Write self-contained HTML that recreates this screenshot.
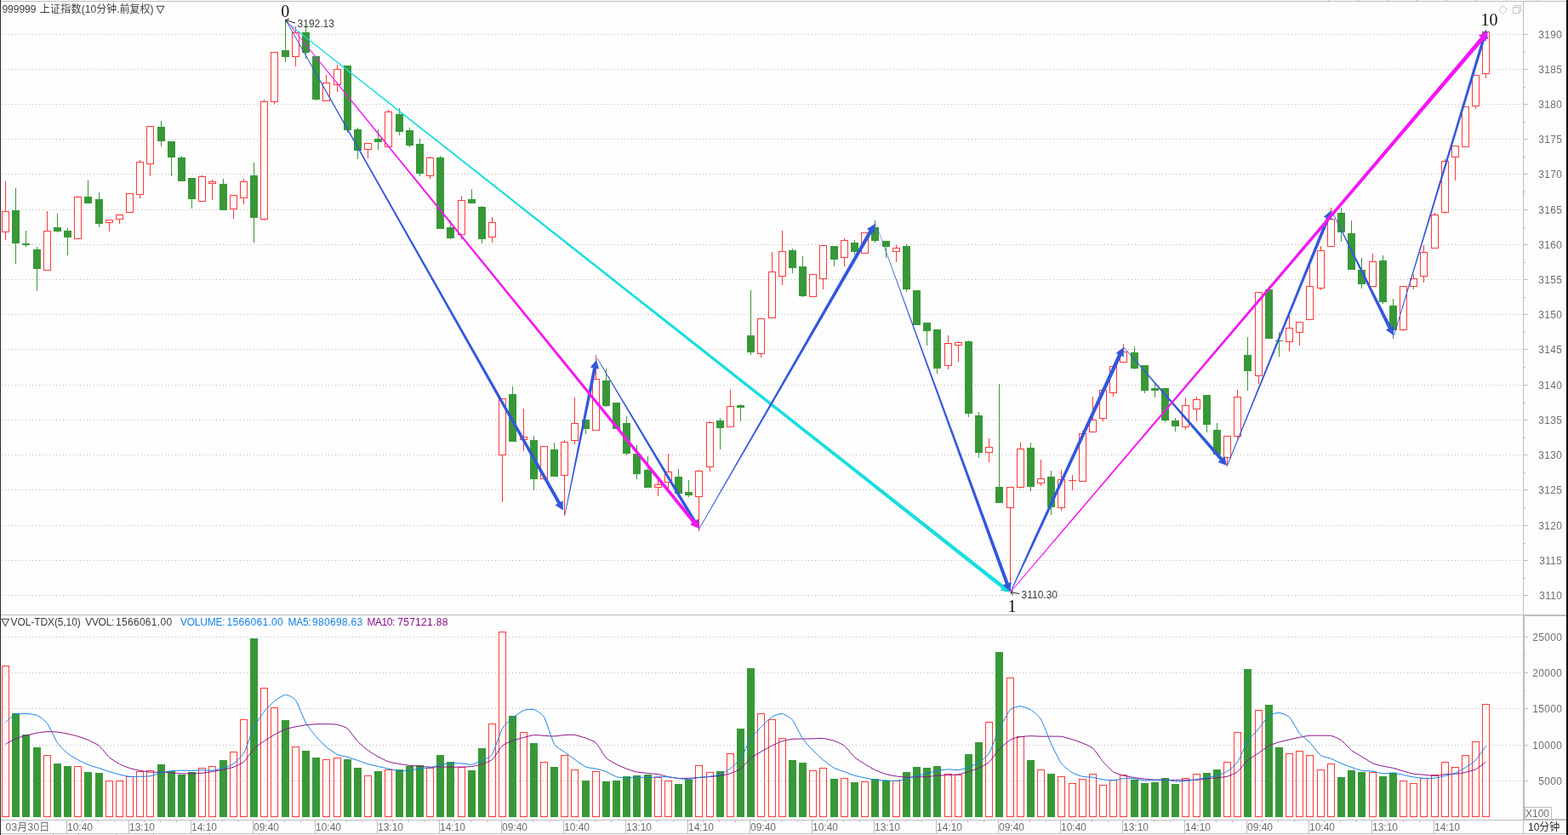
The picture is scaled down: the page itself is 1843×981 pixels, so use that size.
<!DOCTYPE html>
<html lang="zh"><head><meta charset="utf-8"><title>999999 上证指数</title>
<style>html,body{margin:0;padding:0;background:#fdfdfd;overflow:hidden}svg{display:block}text{font-family:"Liberation Sans","Noto Sans CJK SC",sans-serif;font-size:12px}.s{font-family:"Liberation Serif","Noto Serif CJK SC",serif;font-size:20px;fill:#111}.c{shape-rendering:crispEdges}</style></head><body>
<svg width="1843" height="981" viewBox="0 0 1843 981">
<rect width="1843" height="981" fill="#fdfdfd"/>
<g class="c" stroke="#b9b9b9" stroke-width="1" stroke-dasharray="1 3" fill="none">
<path d="M2 40.5H1789"/>
<path d="M2 81.5H1789"/>
<path d="M2 122.5H1789"/>
<path d="M2 163.5H1789"/>
<path d="M2 204.5H1789"/>
<path d="M2 246.5H1789"/>
<path d="M2 287.5H1789"/>
<path d="M2 328.5H1789"/>
<path d="M2 369.5H1789"/>
<path d="M2 410.5H1789"/>
<path d="M2 452.5H1789"/>
<path d="M2 493.5H1789"/>
<path d="M2 534.5H1789"/>
<path d="M2 575.5H1789"/>
<path d="M2 617.5H1789"/>
<path d="M2 658.5H1789"/>
<path d="M2 699.5H1789"/>
<path d="M2 748.5H1789"/>
<path d="M2 790.5H1789"/>
<path d="M2 832.5H1789"/>
<path d="M2 875.5H1789"/>
<path d="M2 917.5H1789"/>
</g>
<g class="c" fill="#bdbdbd">
<rect x="0" y="1" width="1841" height="1"/>
<rect x="1" y="722" width="1790" height="1"/>
<rect x="1790" y="722" width="51" height="2"/>
<rect x="1790" y="2" width="1" height="720"/>
<rect x="1790" y="722" width="2" height="241"/>
<rect x="1790" y="963" width="1" height="17"/>
<rect x="1" y="963" width="1790" height="1"/>
<rect x="1790" y="962" width="51" height="2"/>
<rect x="1" y="979" width="1840" height="1"/>
<rect x="1791" y="40" width="5" height="1"/>
<rect x="1791" y="61" width="2" height="1"/>
<rect x="1791" y="81" width="5" height="1"/>
<rect x="1791" y="102" width="2" height="1"/>
<rect x="1791" y="122" width="5" height="1"/>
<rect x="1791" y="143" width="2" height="1"/>
<rect x="1791" y="163" width="5" height="1"/>
<rect x="1791" y="184" width="2" height="1"/>
<rect x="1791" y="204" width="5" height="1"/>
<rect x="1791" y="225" width="2" height="1"/>
<rect x="1791" y="246" width="5" height="1"/>
<rect x="1791" y="267" width="2" height="1"/>
<rect x="1791" y="287" width="5" height="1"/>
<rect x="1791" y="308" width="2" height="1"/>
<rect x="1791" y="328" width="5" height="1"/>
<rect x="1791" y="349" width="2" height="1"/>
<rect x="1791" y="369" width="5" height="1"/>
<rect x="1791" y="390" width="2" height="1"/>
<rect x="1791" y="410" width="5" height="1"/>
<rect x="1791" y="431" width="2" height="1"/>
<rect x="1791" y="452" width="5" height="1"/>
<rect x="1791" y="473" width="2" height="1"/>
<rect x="1791" y="493" width="5" height="1"/>
<rect x="1791" y="514" width="2" height="1"/>
<rect x="1791" y="534" width="5" height="1"/>
<rect x="1791" y="555" width="2" height="1"/>
<rect x="1791" y="575" width="5" height="1"/>
<rect x="1791" y="596" width="2" height="1"/>
<rect x="1791" y="617" width="5" height="1"/>
<rect x="1791" y="638" width="2" height="1"/>
<rect x="1791" y="658" width="5" height="1"/>
<rect x="1791" y="679" width="2" height="1"/>
<rect x="1791" y="699" width="5" height="1"/>
<rect x="1792" y="748" width="4" height="1"/>
<rect x="1792" y="769" width="1" height="1"/>
<rect x="1792" y="790" width="4" height="1"/>
<rect x="1792" y="811" width="1" height="1"/>
<rect x="1792" y="832" width="4" height="1"/>
<rect x="1792" y="853" width="1" height="1"/>
<rect x="1792" y="875" width="4" height="1"/>
<rect x="1792" y="896" width="1" height="1"/>
<rect x="1792" y="917" width="4" height="1"/>
<rect x="78" y="963" width="1" height="17"/>
<rect x="96" y="964" width="1" height="2"/>
<rect x="115" y="964" width="1" height="2"/>
<rect x="134" y="964" width="1" height="2"/>
<rect x="151" y="963" width="1" height="17"/>
<rect x="169" y="964" width="1" height="2"/>
<rect x="188" y="964" width="1" height="2"/>
<rect x="207" y="964" width="1" height="2"/>
<rect x="224" y="963" width="1" height="17"/>
<rect x="242" y="964" width="1" height="2"/>
<rect x="261" y="964" width="1" height="2"/>
<rect x="280" y="964" width="1" height="2"/>
<rect x="297" y="963" width="1" height="17"/>
<rect x="315" y="964" width="1" height="2"/>
<rect x="334" y="964" width="1" height="2"/>
<rect x="353" y="964" width="1" height="2"/>
<rect x="370" y="963" width="1" height="17"/>
<rect x="388" y="964" width="1" height="2"/>
<rect x="407" y="964" width="1" height="2"/>
<rect x="426" y="964" width="1" height="2"/>
<rect x="443" y="963" width="1" height="17"/>
<rect x="461" y="964" width="1" height="2"/>
<rect x="480" y="964" width="1" height="2"/>
<rect x="499" y="964" width="1" height="2"/>
<rect x="516" y="963" width="1" height="17"/>
<rect x="534" y="964" width="1" height="2"/>
<rect x="553" y="964" width="1" height="2"/>
<rect x="572" y="964" width="1" height="2"/>
<rect x="589" y="963" width="1" height="17"/>
<rect x="607" y="964" width="1" height="2"/>
<rect x="626" y="964" width="1" height="2"/>
<rect x="645" y="964" width="1" height="2"/>
<rect x="662" y="963" width="1" height="17"/>
<rect x="680" y="964" width="1" height="2"/>
<rect x="699" y="964" width="1" height="2"/>
<rect x="718" y="964" width="1" height="2"/>
<rect x="735" y="963" width="1" height="17"/>
<rect x="753" y="964" width="1" height="2"/>
<rect x="772" y="964" width="1" height="2"/>
<rect x="791" y="964" width="1" height="2"/>
<rect x="808" y="963" width="1" height="17"/>
<rect x="826" y="964" width="1" height="2"/>
<rect x="845" y="964" width="1" height="2"/>
<rect x="864" y="964" width="1" height="2"/>
<rect x="881" y="963" width="1" height="17"/>
<rect x="899" y="964" width="1" height="2"/>
<rect x="918" y="964" width="1" height="2"/>
<rect x="937" y="964" width="1" height="2"/>
<rect x="954" y="963" width="1" height="17"/>
<rect x="972" y="964" width="1" height="2"/>
<rect x="991" y="964" width="1" height="2"/>
<rect x="1010" y="964" width="1" height="2"/>
<rect x="1027" y="963" width="1" height="17"/>
<rect x="1045" y="964" width="1" height="2"/>
<rect x="1064" y="964" width="1" height="2"/>
<rect x="1083" y="964" width="1" height="2"/>
<rect x="1100" y="963" width="1" height="17"/>
<rect x="1118" y="964" width="1" height="2"/>
<rect x="1137" y="964" width="1" height="2"/>
<rect x="1156" y="964" width="1" height="2"/>
<rect x="1173" y="963" width="1" height="17"/>
<rect x="1191" y="964" width="1" height="2"/>
<rect x="1210" y="964" width="1" height="2"/>
<rect x="1229" y="964" width="1" height="2"/>
<rect x="1246" y="963" width="1" height="17"/>
<rect x="1264" y="964" width="1" height="2"/>
<rect x="1283" y="964" width="1" height="2"/>
<rect x="1302" y="964" width="1" height="2"/>
<rect x="1319" y="963" width="1" height="17"/>
<rect x="1337" y="964" width="1" height="2"/>
<rect x="1356" y="964" width="1" height="2"/>
<rect x="1375" y="964" width="1" height="2"/>
<rect x="1392" y="963" width="1" height="17"/>
<rect x="1410" y="964" width="1" height="2"/>
<rect x="1429" y="964" width="1" height="2"/>
<rect x="1448" y="964" width="1" height="2"/>
<rect x="1465" y="963" width="1" height="17"/>
<rect x="1483" y="964" width="1" height="2"/>
<rect x="1502" y="964" width="1" height="2"/>
<rect x="1521" y="964" width="1" height="2"/>
<rect x="1538" y="963" width="1" height="17"/>
<rect x="1556" y="964" width="1" height="2"/>
<rect x="1575" y="964" width="1" height="2"/>
<rect x="1594" y="964" width="1" height="2"/>
<rect x="1612" y="963" width="1" height="17"/>
<rect x="1630" y="964" width="1" height="2"/>
<rect x="1649" y="964" width="1" height="2"/>
<rect x="1668" y="964" width="1" height="2"/>
<rect x="1685" y="963" width="1" height="17"/>
<rect x="1561" y="0" width="1" height="1"/>
<rect x="1596" y="0" width="1" height="1"/>
<rect x="1631" y="0" width="1" height="1"/>
<rect x="1665" y="0" width="1" height="1"/>
<rect x="1700" y="0" width="1" height="1"/>
<rect x="1735" y="0" width="1" height="1"/>
<rect x="1770" y="0" width="1" height="1"/>
<rect x="1805" y="0" width="1" height="1"/>
<rect x="31" y="980" width="1" height="1"/>
<rect x="62" y="980" width="1" height="1"/>
<rect x="92" y="980" width="1" height="1"/>
<rect x="136" y="980" width="1" height="1"/>
<rect x="180" y="980" width="1" height="1"/>
<rect x="246" y="980" width="1" height="1"/>
<rect x="304" y="980" width="1" height="1"/>
</g>
<rect class="c" x="1792.5" y="948.5" width="31" height="14" fill="none" stroke="#bdbdbd"/>
<rect class="c" x="0" y="0" width="1" height="981" fill="#2c2c2c"/>
<rect class="c" x="1841" y="0" width="2" height="981" fill="#0c0c0c"/>
<g class="c">
<rect x="2.5" y="782.5" width="8" height="177" fill="none" stroke="#ff3a3a"/>
<rect x="14" y="838" width="9" height="122" fill="#389838"/>
<rect x="26" y="863" width="9" height="97" fill="#389838"/>
<rect x="39" y="878" width="9" height="82" fill="#389838"/>
<rect x="51.5" y="887.5" width="8" height="72" fill="none" stroke="#ff3a3a"/>
<rect x="63" y="897" width="9" height="63" fill="#389838"/>
<rect x="75" y="900" width="9" height="60" fill="#389838"/>
<rect x="87.5" y="900.5" width="8" height="59" fill="none" stroke="#ff3a3a"/>
<rect x="99" y="907" width="9" height="53" fill="#389838"/>
<rect x="112" y="908" width="9" height="52" fill="#389838"/>
<rect x="124.5" y="917.5" width="8" height="42" fill="none" stroke="#ff3a3a"/>
<rect x="136.5" y="917.5" width="8" height="42" fill="none" stroke="#ff3a3a"/>
<rect x="148.5" y="912.5" width="8" height="47" fill="none" stroke="#ff3a3a"/>
<rect x="160.5" y="906.5" width="8" height="53" fill="none" stroke="#ff3a3a"/>
<rect x="172.5" y="905.5" width="8" height="54" fill="none" stroke="#ff3a3a"/>
<rect x="185" y="898" width="9" height="62" fill="#389838"/>
<rect x="197" y="906" width="9" height="54" fill="#389838"/>
<rect x="209" y="910" width="9" height="50" fill="#389838"/>
<rect x="221" y="907" width="9" height="53" fill="#389838"/>
<rect x="233.5" y="902.5" width="8" height="57" fill="none" stroke="#ff3a3a"/>
<rect x="245.5" y="900.5" width="8" height="59" fill="none" stroke="#ff3a3a"/>
<rect x="258" y="893" width="9" height="67" fill="#389838"/>
<rect x="270.5" y="883.5" width="8" height="76" fill="none" stroke="#ff3a3a"/>
<rect x="282.5" y="845.5" width="8" height="114" fill="none" stroke="#ff3a3a"/>
<rect x="294" y="750" width="9" height="210" fill="#389838"/>
<rect x="306.5" y="808.5" width="8" height="151" fill="none" stroke="#ff3a3a"/>
<rect x="318.5" y="831.5" width="8" height="128" fill="none" stroke="#ff3a3a"/>
<rect x="331" y="846" width="9" height="114" fill="#389838"/>
<rect x="343.5" y="877.5" width="8" height="82" fill="none" stroke="#ff3a3a"/>
<rect x="355" y="882" width="9" height="78" fill="#389838"/>
<rect x="367" y="890" width="9" height="70" fill="#389838"/>
<rect x="379.5" y="892.5" width="8" height="67" fill="none" stroke="#ff3a3a"/>
<rect x="392.5" y="890.5" width="8" height="69" fill="none" stroke="#ff3a3a"/>
<rect x="404" y="892" width="9" height="68" fill="#389838"/>
<rect x="416" y="902" width="9" height="58" fill="#389838"/>
<rect x="428.5" y="911.5" width="8" height="48" fill="none" stroke="#ff3a3a"/>
<rect x="440" y="906" width="9" height="54" fill="#389838"/>
<rect x="452.5" y="904.5" width="8" height="55" fill="none" stroke="#ff3a3a"/>
<rect x="465" y="904" width="9" height="56" fill="#389838"/>
<rect x="477" y="900" width="9" height="60" fill="#389838"/>
<rect x="489" y="899" width="9" height="61" fill="#389838"/>
<rect x="501.5" y="902.5" width="8" height="57" fill="none" stroke="#ff3a3a"/>
<rect x="513" y="887" width="9" height="73" fill="#389838"/>
<rect x="525" y="895" width="9" height="65" fill="#389838"/>
<rect x="538.5" y="901.5" width="8" height="58" fill="none" stroke="#ff3a3a"/>
<rect x="550" y="905" width="9" height="55" fill="#389838"/>
<rect x="562" y="879" width="9" height="81" fill="#389838"/>
<rect x="574.5" y="850.5" width="8" height="109" fill="none" stroke="#ff3a3a"/>
<rect x="586.5" y="742.5" width="8" height="217" fill="none" stroke="#ff3a3a"/>
<rect x="598" y="841" width="9" height="119" fill="#389838"/>
<rect x="611.5" y="860.5" width="8" height="99" fill="none" stroke="#ff3a3a"/>
<rect x="623" y="873" width="9" height="87" fill="#389838"/>
<rect x="635.5" y="895.5" width="8" height="64" fill="none" stroke="#ff3a3a"/>
<rect x="647" y="901" width="9" height="59" fill="#389838"/>
<rect x="659.5" y="887.5" width="8" height="72" fill="none" stroke="#ff3a3a"/>
<rect x="671.5" y="904.5" width="8" height="55" fill="none" stroke="#ff3a3a"/>
<rect x="684" y="917" width="9" height="43" fill="#389838"/>
<rect x="696.5" y="906.5" width="8" height="53" fill="none" stroke="#ff3a3a"/>
<rect x="708" y="918" width="9" height="42" fill="#389838"/>
<rect x="720" y="917" width="9" height="43" fill="#389838"/>
<rect x="732" y="912" width="9" height="48" fill="#389838"/>
<rect x="744" y="911" width="9" height="49" fill="#389838"/>
<rect x="757" y="910" width="9" height="50" fill="#389838"/>
<rect x="769.5" y="913.5" width="8" height="46" fill="none" stroke="#ff3a3a"/>
<rect x="781.5" y="917.5" width="8" height="42" fill="none" stroke="#ff3a3a"/>
<rect x="793" y="921" width="9" height="39" fill="#389838"/>
<rect x="805" y="916" width="9" height="44" fill="#389838"/>
<rect x="817.5" y="899.5" width="8" height="60" fill="none" stroke="#ff3a3a"/>
<rect x="830.5" y="907.5" width="8" height="52" fill="none" stroke="#ff3a3a"/>
<rect x="842" y="906" width="9" height="54" fill="#389838"/>
<rect x="854.5" y="885.5" width="8" height="74" fill="none" stroke="#ff3a3a"/>
<rect x="866" y="856" width="9" height="104" fill="#389838"/>
<rect x="878" y="785" width="9" height="175" fill="#389838"/>
<rect x="890.5" y="838.5" width="8" height="121" fill="none" stroke="#ff3a3a"/>
<rect x="903.5" y="845.5" width="8" height="114" fill="none" stroke="#ff3a3a"/>
<rect x="915.5" y="867.5" width="8" height="92" fill="none" stroke="#ff3a3a"/>
<rect x="927" y="893" width="9" height="67" fill="#389838"/>
<rect x="939" y="896" width="9" height="64" fill="#389838"/>
<rect x="951.5" y="905.5" width="8" height="54" fill="none" stroke="#ff3a3a"/>
<rect x="963.5" y="902.5" width="8" height="57" fill="none" stroke="#ff3a3a"/>
<rect x="976" y="915" width="9" height="45" fill="#389838"/>
<rect x="988.5" y="914.5" width="8" height="45" fill="none" stroke="#ff3a3a"/>
<rect x="1000" y="919" width="9" height="41" fill="#389838"/>
<rect x="1012.5" y="918.5" width="8" height="41" fill="none" stroke="#ff3a3a"/>
<rect x="1024" y="915" width="9" height="45" fill="#389838"/>
<rect x="1037" y="917" width="9" height="43" fill="#389838"/>
<rect x="1049.5" y="917.5" width="8" height="42" fill="none" stroke="#ff3a3a"/>
<rect x="1061" y="907" width="9" height="53" fill="#389838"/>
<rect x="1073" y="901" width="9" height="59" fill="#389838"/>
<rect x="1085" y="902" width="9" height="58" fill="#389838"/>
<rect x="1097" y="900" width="9" height="60" fill="#389838"/>
<rect x="1110.5" y="909.5" width="8" height="50" fill="none" stroke="#ff3a3a"/>
<rect x="1122.5" y="910.5" width="8" height="49" fill="none" stroke="#ff3a3a"/>
<rect x="1134" y="886" width="9" height="74" fill="#389838"/>
<rect x="1146" y="872" width="9" height="88" fill="#389838"/>
<rect x="1158.5" y="848.5" width="8" height="111" fill="none" stroke="#ff3a3a"/>
<rect x="1170" y="766" width="9" height="194" fill="#389838"/>
<rect x="1183.5" y="796.5" width="8" height="163" fill="none" stroke="#ff3a3a"/>
<rect x="1195.5" y="865.5" width="8" height="94" fill="none" stroke="#ff3a3a"/>
<rect x="1207" y="893" width="9" height="67" fill="#389838"/>
<rect x="1219.5" y="904.5" width="8" height="55" fill="none" stroke="#ff3a3a"/>
<rect x="1231" y="909" width="9" height="51" fill="#389838"/>
<rect x="1243.5" y="912.5" width="8" height="47" fill="none" stroke="#ff3a3a"/>
<rect x="1256.5" y="920.5" width="8" height="39" fill="none" stroke="#ff3a3a"/>
<rect x="1268.5" y="915.5" width="8" height="44" fill="none" stroke="#ff3a3a"/>
<rect x="1280.5" y="909.5" width="8" height="50" fill="none" stroke="#ff3a3a"/>
<rect x="1292.5" y="922.5" width="8" height="37" fill="none" stroke="#ff3a3a"/>
<rect x="1304.5" y="916.5" width="8" height="43" fill="none" stroke="#ff3a3a"/>
<rect x="1316.5" y="910.5" width="8" height="49" fill="none" stroke="#ff3a3a"/>
<rect x="1329" y="916" width="9" height="44" fill="#389838"/>
<rect x="1341" y="920" width="9" height="40" fill="#389838"/>
<rect x="1353" y="919" width="9" height="41" fill="#389838"/>
<rect x="1365" y="914" width="9" height="46" fill="#389838"/>
<rect x="1377" y="921" width="9" height="39" fill="#389838"/>
<rect x="1389.5" y="914.5" width="8" height="45" fill="none" stroke="#ff3a3a"/>
<rect x="1402.5" y="909.5" width="8" height="50" fill="none" stroke="#ff3a3a"/>
<rect x="1414" y="908" width="9" height="52" fill="#389838"/>
<rect x="1426" y="904" width="9" height="56" fill="#389838"/>
<rect x="1438.5" y="895.5" width="8" height="64" fill="none" stroke="#ff3a3a"/>
<rect x="1450.5" y="860.5" width="8" height="99" fill="none" stroke="#ff3a3a"/>
<rect x="1462" y="786" width="9" height="174" fill="#389838"/>
<rect x="1475.5" y="834.5" width="8" height="125" fill="none" stroke="#ff3a3a"/>
<rect x="1487" y="828" width="9" height="132" fill="#389838"/>
<rect x="1499" y="878" width="9" height="82" fill="#389838"/>
<rect x="1511.5" y="885.5" width="8" height="74" fill="none" stroke="#ff3a3a"/>
<rect x="1523.5" y="882.5" width="8" height="77" fill="none" stroke="#ff3a3a"/>
<rect x="1535.5" y="887.5" width="8" height="72" fill="none" stroke="#ff3a3a"/>
<rect x="1548.5" y="904.5" width="8" height="55" fill="none" stroke="#ff3a3a"/>
<rect x="1560.5" y="897.5" width="8" height="62" fill="none" stroke="#ff3a3a"/>
<rect x="1572" y="913" width="9" height="47" fill="#389838"/>
<rect x="1584" y="905" width="9" height="55" fill="#389838"/>
<rect x="1596" y="907" width="9" height="53" fill="#389838"/>
<rect x="1609.5" y="907.5" width="8" height="52" fill="none" stroke="#ff3a3a"/>
<rect x="1621" y="912" width="9" height="48" fill="#389838"/>
<rect x="1633" y="908" width="9" height="52" fill="#389838"/>
<rect x="1645.5" y="917.5" width="8" height="42" fill="none" stroke="#ff3a3a"/>
<rect x="1657.5" y="920.5" width="8" height="39" fill="none" stroke="#ff3a3a"/>
<rect x="1669.5" y="914.5" width="8" height="45" fill="none" stroke="#ff3a3a"/>
<rect x="1682.5" y="910.5" width="8" height="49" fill="none" stroke="#ff3a3a"/>
<rect x="1694.5" y="895.5" width="8" height="64" fill="none" stroke="#ff3a3a"/>
<rect x="1706.5" y="901.5" width="8" height="58" fill="none" stroke="#ff3a3a"/>
<rect x="1718.5" y="887.5" width="8" height="72" fill="none" stroke="#ff3a3a"/>
<rect x="1730.5" y="871.5" width="8" height="88" fill="none" stroke="#ff3a3a"/>
<rect x="1742.5" y="827.5" width="8" height="132" fill="none" stroke="#ff3a3a"/>
</g>
<g class="c">
<rect x="6" y="213" width="1" height="35" fill="#ff3a3a"/>
<rect x="6" y="273" width="1" height="9" fill="#ff3a3a"/>
<rect x="2.5" y="248.5" width="8" height="24" fill="#fdfdfd" stroke="#ff3a3a"/>
<rect x="18" y="221" width="1" height="26" fill="#389838"/>
<rect x="18" y="286" width="1" height="24" fill="#389838"/>
<rect x="14" y="247" width="9" height="39" fill="#389838"/>
<rect x="30" y="271" width="1" height="15" fill="#389838"/>
<rect x="30" y="288" width="1" height="2" fill="#389838"/>
<rect x="26" y="286" width="9" height="2" fill="#389838"/>
<rect x="43" y="290" width="1" height="3" fill="#389838"/>
<rect x="43" y="316" width="1" height="26" fill="#389838"/>
<rect x="39" y="293" width="9" height="23" fill="#389838"/>
<rect x="55" y="248" width="1" height="23" fill="#ff3a3a"/>
<rect x="51.5" y="271.5" width="8" height="46" fill="#fdfdfd" stroke="#ff3a3a"/>
<rect x="67" y="251" width="1" height="16" fill="#389838"/>
<rect x="67" y="272" width="1" height="1" fill="#389838"/>
<rect x="63" y="267" width="9" height="5" fill="#389838"/>
<rect x="79" y="268" width="1" height="3" fill="#389838"/>
<rect x="79" y="279" width="1" height="21" fill="#389838"/>
<rect x="75" y="271" width="9" height="8" fill="#389838"/>
<rect x="91" y="230" width="1" height="1" fill="#ff3a3a"/>
<rect x="87.5" y="231.5" width="8" height="49" fill="#fdfdfd" stroke="#ff3a3a"/>
<rect x="103" y="212" width="1" height="19" fill="#389838"/>
<rect x="99" y="231" width="9" height="8" fill="#389838"/>
<rect x="116" y="226" width="1" height="8" fill="#389838"/>
<rect x="116" y="263" width="1" height="4" fill="#389838"/>
<rect x="112" y="234" width="9" height="29" fill="#389838"/>
<rect x="128" y="262" width="1" height="10" fill="#ff3a3a"/>
<rect x="124.5" y="258.5" width="8" height="3" fill="#fdfdfd" stroke="#ff3a3a"/>
<rect x="140" y="258" width="1" height="5" fill="#ff3a3a"/>
<rect x="136.5" y="252.5" width="8" height="5" fill="#fdfdfd" stroke="#ff3a3a"/>
<rect x="148.5" y="227.5" width="8" height="22" fill="#fdfdfd" stroke="#ff3a3a"/>
<rect x="164" y="188" width="1" height="2" fill="#ff3a3a"/>
<rect x="164" y="229" width="1" height="4" fill="#ff3a3a"/>
<rect x="160.5" y="190.5" width="8" height="38" fill="#fdfdfd" stroke="#ff3a3a"/>
<rect x="176" y="193" width="1" height="14" fill="#ff3a3a"/>
<rect x="172.5" y="148.5" width="8" height="44" fill="#fdfdfd" stroke="#ff3a3a"/>
<rect x="189" y="142" width="1" height="7" fill="#389838"/>
<rect x="189" y="166" width="1" height="6" fill="#389838"/>
<rect x="185" y="149" width="9" height="17" fill="#389838"/>
<rect x="201" y="185" width="1" height="22" fill="#389838"/>
<rect x="197" y="166" width="9" height="19" fill="#389838"/>
<rect x="213" y="183" width="1" height="2" fill="#389838"/>
<rect x="209" y="185" width="9" height="28" fill="#389838"/>
<rect x="225" y="234" width="1" height="11" fill="#389838"/>
<rect x="221" y="209" width="9" height="25" fill="#389838"/>
<rect x="237" y="206" width="1" height="1" fill="#ff3a3a"/>
<rect x="233.5" y="207.5" width="8" height="29" fill="#fdfdfd" stroke="#ff3a3a"/>
<rect x="249" y="211" width="1" height="2" fill="#ff3a3a"/>
<rect x="249" y="216" width="1" height="19" fill="#ff3a3a"/>
<rect x="245.5" y="213.5" width="8" height="2" fill="#fdfdfd" stroke="#ff3a3a"/>
<rect x="262" y="210" width="1" height="6" fill="#389838"/>
<rect x="258" y="216" width="9" height="31" fill="#389838"/>
<rect x="274" y="246" width="1" height="11" fill="#ff3a3a"/>
<rect x="270.5" y="229.5" width="8" height="16" fill="#fdfdfd" stroke="#ff3a3a"/>
<rect x="286" y="210" width="1" height="3" fill="#ff3a3a"/>
<rect x="286" y="233" width="1" height="7" fill="#ff3a3a"/>
<rect x="282.5" y="213.5" width="8" height="19" fill="#fdfdfd" stroke="#ff3a3a"/>
<rect x="298" y="191" width="1" height="15" fill="#389838"/>
<rect x="298" y="256" width="1" height="29" fill="#389838"/>
<rect x="294" y="206" width="9" height="50" fill="#389838"/>
<rect x="310" y="117" width="1" height="2" fill="#ff3a3a"/>
<rect x="310" y="258" width="1" height="1" fill="#ff3a3a"/>
<rect x="306.5" y="119.5" width="8" height="138" fill="#fdfdfd" stroke="#ff3a3a"/>
<rect x="322" y="120" width="1" height="3" fill="#ff3a3a"/>
<rect x="318.5" y="61.5" width="8" height="58" fill="#fdfdfd" stroke="#ff3a3a"/>
<rect x="335" y="23" width="1" height="36" fill="#389838"/>
<rect x="335" y="67" width="1" height="6" fill="#389838"/>
<rect x="331" y="59" width="9" height="8" fill="#389838"/>
<rect x="347" y="31" width="1" height="7" fill="#ff3a3a"/>
<rect x="347" y="67" width="1" height="11" fill="#ff3a3a"/>
<rect x="343.5" y="38.5" width="8" height="28" fill="#fdfdfd" stroke="#ff3a3a"/>
<rect x="359" y="30" width="1" height="8" fill="#389838"/>
<rect x="359" y="62" width="1" height="7" fill="#389838"/>
<rect x="355" y="38" width="9" height="24" fill="#389838"/>
<rect x="371" y="117" width="1" height="1" fill="#389838"/>
<rect x="367" y="66" width="9" height="51" fill="#389838"/>
<rect x="383" y="88" width="1" height="9" fill="#ff3a3a"/>
<rect x="379.5" y="97.5" width="8" height="21" fill="#fdfdfd" stroke="#ff3a3a"/>
<rect x="396" y="76" width="1" height="5" fill="#ff3a3a"/>
<rect x="396" y="100" width="1" height="8" fill="#ff3a3a"/>
<rect x="392.5" y="81.5" width="8" height="18" fill="#fdfdfd" stroke="#ff3a3a"/>
<rect x="408" y="153" width="1" height="3" fill="#389838"/>
<rect x="404" y="77" width="9" height="76" fill="#389838"/>
<rect x="420" y="150" width="1" height="2" fill="#389838"/>
<rect x="420" y="177" width="1" height="10" fill="#389838"/>
<rect x="416" y="152" width="9" height="25" fill="#389838"/>
<rect x="432" y="176" width="1" height="10" fill="#ff3a3a"/>
<rect x="428.5" y="168.5" width="8" height="7" fill="#fdfdfd" stroke="#ff3a3a"/>
<rect x="444" y="152" width="1" height="11" fill="#389838"/>
<rect x="444" y="167" width="1" height="9" fill="#389838"/>
<rect x="440" y="163" width="9" height="4" fill="#389838"/>
<rect x="456" y="129" width="1" height="2" fill="#ff3a3a"/>
<rect x="452.5" y="131.5" width="8" height="41" fill="#fdfdfd" stroke="#ff3a3a"/>
<rect x="469" y="127" width="1" height="7" fill="#389838"/>
<rect x="469" y="155" width="1" height="4" fill="#389838"/>
<rect x="465" y="134" width="9" height="21" fill="#389838"/>
<rect x="481" y="150" width="1" height="3" fill="#389838"/>
<rect x="481" y="171" width="1" height="2" fill="#389838"/>
<rect x="477" y="153" width="9" height="18" fill="#389838"/>
<rect x="493" y="163" width="1" height="6" fill="#389838"/>
<rect x="493" y="204" width="1" height="3" fill="#389838"/>
<rect x="489" y="169" width="9" height="35" fill="#389838"/>
<rect x="505" y="184" width="1" height="1" fill="#ff3a3a"/>
<rect x="505" y="207" width="1" height="3" fill="#ff3a3a"/>
<rect x="501.5" y="185.5" width="8" height="21" fill="#fdfdfd" stroke="#ff3a3a"/>
<rect x="517" y="183" width="1" height="2" fill="#389838"/>
<rect x="513" y="185" width="9" height="84" fill="#389838"/>
<rect x="529" y="259" width="1" height="8" fill="#389838"/>
<rect x="529" y="280" width="1" height="1" fill="#389838"/>
<rect x="525" y="267" width="9" height="13" fill="#389838"/>
<rect x="542" y="230" width="1" height="5" fill="#ff3a3a"/>
<rect x="542" y="276" width="1" height="5" fill="#ff3a3a"/>
<rect x="538.5" y="235.5" width="8" height="40" fill="#fdfdfd" stroke="#ff3a3a"/>
<rect x="554" y="222" width="1" height="12" fill="#389838"/>
<rect x="550" y="234" width="9" height="5" fill="#389838"/>
<rect x="566" y="242" width="1" height="1" fill="#389838"/>
<rect x="566" y="281" width="1" height="5" fill="#389838"/>
<rect x="562" y="243" width="9" height="38" fill="#389838"/>
<rect x="578" y="255" width="1" height="6" fill="#ff3a3a"/>
<rect x="578" y="279" width="1" height="6" fill="#ff3a3a"/>
<rect x="574.5" y="261.5" width="8" height="17" fill="#fdfdfd" stroke="#ff3a3a"/>
<rect x="590" y="535" width="1" height="55" fill="#ff3a3a"/>
<rect x="586.5" y="468.5" width="8" height="66" fill="#fdfdfd" stroke="#ff3a3a"/>
<rect x="602" y="454" width="1" height="9" fill="#389838"/>
<rect x="598" y="463" width="9" height="56" fill="#389838"/>
<rect x="615" y="480" width="1" height="33" fill="#ff3a3a"/>
<rect x="615" y="517" width="1" height="13" fill="#ff3a3a"/>
<rect x="611.5" y="513.5" width="8" height="3" fill="#fdfdfd" stroke="#ff3a3a"/>
<rect x="627" y="512" width="1" height="5" fill="#389838"/>
<rect x="627" y="563" width="1" height="13" fill="#389838"/>
<rect x="623" y="517" width="9" height="46" fill="#389838"/>
<rect x="635.5" y="524.5" width="8" height="38" fill="#fdfdfd" stroke="#ff3a3a"/>
<rect x="651" y="520" width="1" height="8" fill="#389838"/>
<rect x="647" y="528" width="9" height="32" fill="#389838"/>
<rect x="663" y="517" width="1" height="2" fill="#ff3a3a"/>
<rect x="663" y="559" width="1" height="47" fill="#ff3a3a"/>
<rect x="659.5" y="519.5" width="8" height="39" fill="#fdfdfd" stroke="#ff3a3a"/>
<rect x="675" y="467" width="1" height="30" fill="#ff3a3a"/>
<rect x="675" y="518" width="1" height="4" fill="#ff3a3a"/>
<rect x="671.5" y="497.5" width="8" height="20" fill="#fdfdfd" stroke="#ff3a3a"/>
<rect x="688" y="504" width="1" height="6" fill="#389838"/>
<rect x="684" y="493" width="9" height="11" fill="#389838"/>
<rect x="700" y="417" width="1" height="28" fill="#ff3a3a"/>
<rect x="696.5" y="445.5" width="8" height="60" fill="#fdfdfd" stroke="#ff3a3a"/>
<rect x="712" y="433" width="1" height="14" fill="#389838"/>
<rect x="712" y="477" width="1" height="1" fill="#389838"/>
<rect x="708" y="447" width="9" height="30" fill="#389838"/>
<rect x="720" y="473" width="9" height="31" fill="#389838"/>
<rect x="736" y="489" width="1" height="8" fill="#389838"/>
<rect x="736" y="533" width="1" height="2" fill="#389838"/>
<rect x="732" y="497" width="9" height="36" fill="#389838"/>
<rect x="748" y="523" width="1" height="10" fill="#389838"/>
<rect x="748" y="557" width="1" height="6" fill="#389838"/>
<rect x="744" y="533" width="9" height="24" fill="#389838"/>
<rect x="761" y="536" width="1" height="16" fill="#389838"/>
<rect x="757" y="552" width="9" height="21" fill="#389838"/>
<rect x="773" y="564" width="1" height="5" fill="#ff3a3a"/>
<rect x="773" y="573" width="1" height="10" fill="#ff3a3a"/>
<rect x="769.5" y="569.5" width="8" height="3" fill="#fdfdfd" stroke="#ff3a3a"/>
<rect x="785" y="533" width="1" height="21" fill="#ff3a3a"/>
<rect x="785" y="567" width="1" height="7" fill="#ff3a3a"/>
<rect x="781.5" y="554.5" width="8" height="12" fill="#fdfdfd" stroke="#ff3a3a"/>
<rect x="797" y="551" width="1" height="9" fill="#389838"/>
<rect x="797" y="580" width="1" height="5" fill="#389838"/>
<rect x="793" y="560" width="9" height="20" fill="#389838"/>
<rect x="809" y="564" width="1" height="14" fill="#389838"/>
<rect x="809" y="582" width="1" height="2" fill="#389838"/>
<rect x="805" y="578" width="9" height="4" fill="#389838"/>
<rect x="821" y="552" width="1" height="1" fill="#ff3a3a"/>
<rect x="821" y="584" width="1" height="40" fill="#ff3a3a"/>
<rect x="817.5" y="553.5" width="8" height="30" fill="#fdfdfd" stroke="#ff3a3a"/>
<rect x="834" y="495" width="1" height="1" fill="#ff3a3a"/>
<rect x="834" y="549" width="1" height="5" fill="#ff3a3a"/>
<rect x="830.5" y="496.5" width="8" height="52" fill="#fdfdfd" stroke="#ff3a3a"/>
<rect x="846" y="491" width="1" height="3" fill="#389838"/>
<rect x="846" y="503" width="1" height="25" fill="#389838"/>
<rect x="842" y="494" width="9" height="9" fill="#389838"/>
<rect x="858" y="458" width="1" height="19" fill="#ff3a3a"/>
<rect x="854.5" y="477.5" width="8" height="24" fill="#fdfdfd" stroke="#ff3a3a"/>
<rect x="870" y="475" width="1" height="1" fill="#389838"/>
<rect x="870" y="479" width="1" height="16" fill="#389838"/>
<rect x="866" y="476" width="9" height="3" fill="#389838"/>
<rect x="882" y="341" width="1" height="53" fill="#389838"/>
<rect x="882" y="414" width="1" height="3" fill="#389838"/>
<rect x="878" y="394" width="9" height="20" fill="#389838"/>
<rect x="894" y="416" width="1" height="4" fill="#ff3a3a"/>
<rect x="890.5" y="374.5" width="8" height="41" fill="#fdfdfd" stroke="#ff3a3a"/>
<rect x="907" y="296" width="1" height="23" fill="#ff3a3a"/>
<rect x="903.5" y="319.5" width="8" height="54" fill="#fdfdfd" stroke="#ff3a3a"/>
<rect x="919" y="271" width="1" height="24" fill="#ff3a3a"/>
<rect x="919" y="325" width="1" height="10" fill="#ff3a3a"/>
<rect x="915.5" y="295.5" width="8" height="29" fill="#fdfdfd" stroke="#ff3a3a"/>
<rect x="931" y="292" width="1" height="2" fill="#389838"/>
<rect x="931" y="315" width="1" height="6" fill="#389838"/>
<rect x="927" y="294" width="9" height="21" fill="#389838"/>
<rect x="943" y="301" width="1" height="12" fill="#389838"/>
<rect x="943" y="348" width="1" height="1" fill="#389838"/>
<rect x="939" y="313" width="9" height="35" fill="#389838"/>
<rect x="951.5" y="322.5" width="8" height="26" fill="#fdfdfd" stroke="#ff3a3a"/>
<rect x="967" y="328" width="1" height="12" fill="#ff3a3a"/>
<rect x="963.5" y="288.5" width="8" height="39" fill="#fdfdfd" stroke="#ff3a3a"/>
<rect x="980" y="305" width="1" height="8" fill="#389838"/>
<rect x="976" y="289" width="9" height="16" fill="#389838"/>
<rect x="992" y="280" width="1" height="2" fill="#ff3a3a"/>
<rect x="992" y="303" width="1" height="10" fill="#ff3a3a"/>
<rect x="988.5" y="282.5" width="8" height="20" fill="#fdfdfd" stroke="#ff3a3a"/>
<rect x="1004" y="282" width="1" height="3" fill="#389838"/>
<rect x="1004" y="296" width="1" height="3" fill="#389838"/>
<rect x="1000" y="285" width="9" height="11" fill="#389838"/>
<rect x="1012.5" y="273.5" width="8" height="24" fill="#fdfdfd" stroke="#ff3a3a"/>
<rect x="1028" y="259" width="1" height="8" fill="#389838"/>
<rect x="1028" y="283" width="1" height="2" fill="#389838"/>
<rect x="1024" y="267" width="9" height="16" fill="#389838"/>
<rect x="1041" y="290" width="1" height="13" fill="#389838"/>
<rect x="1037" y="283" width="9" height="7" fill="#389838"/>
<rect x="1053" y="288" width="1" height="3" fill="#ff3a3a"/>
<rect x="1053" y="296" width="1" height="12" fill="#ff3a3a"/>
<rect x="1049.5" y="291.5" width="8" height="4" fill="#fdfdfd" stroke="#ff3a3a"/>
<rect x="1065" y="287" width="1" height="2" fill="#389838"/>
<rect x="1065" y="340" width="1" height="3" fill="#389838"/>
<rect x="1061" y="289" width="9" height="51" fill="#389838"/>
<rect x="1073" y="341" width="9" height="41" fill="#389838"/>
<rect x="1089" y="389" width="1" height="17" fill="#389838"/>
<rect x="1085" y="379" width="9" height="10" fill="#389838"/>
<rect x="1101" y="433" width="1" height="6" fill="#389838"/>
<rect x="1097" y="387" width="9" height="46" fill="#389838"/>
<rect x="1114" y="394" width="1" height="9" fill="#ff3a3a"/>
<rect x="1114" y="430" width="1" height="4" fill="#ff3a3a"/>
<rect x="1110.5" y="403.5" width="8" height="26" fill="#fdfdfd" stroke="#ff3a3a"/>
<rect x="1126" y="401" width="1" height="1" fill="#ff3a3a"/>
<rect x="1126" y="406" width="1" height="19" fill="#ff3a3a"/>
<rect x="1122.5" y="402.5" width="8" height="3" fill="#fdfdfd" stroke="#ff3a3a"/>
<rect x="1138" y="400" width="1" height="1" fill="#389838"/>
<rect x="1138" y="486" width="1" height="4" fill="#389838"/>
<rect x="1134" y="401" width="9" height="85" fill="#389838"/>
<rect x="1150" y="484" width="1" height="4" fill="#389838"/>
<rect x="1150" y="532" width="1" height="6" fill="#389838"/>
<rect x="1146" y="488" width="9" height="44" fill="#389838"/>
<rect x="1162" y="515" width="1" height="10" fill="#ff3a3a"/>
<rect x="1162" y="532" width="1" height="11" fill="#ff3a3a"/>
<rect x="1158.5" y="525.5" width="8" height="6" fill="#fdfdfd" stroke="#ff3a3a"/>
<rect x="1174" y="451" width="1" height="121" fill="#389838"/>
<rect x="1170" y="572" width="9" height="19" fill="#389838"/>
<rect x="1187" y="597" width="1" height="98" fill="#ff3a3a"/>
<rect x="1183.5" y="572.5" width="8" height="24" fill="#fdfdfd" stroke="#ff3a3a"/>
<rect x="1199" y="520" width="1" height="7" fill="#ff3a3a"/>
<rect x="1195.5" y="527.5" width="8" height="45" fill="#fdfdfd" stroke="#ff3a3a"/>
<rect x="1211" y="520" width="1" height="6" fill="#389838"/>
<rect x="1211" y="572" width="1" height="5" fill="#389838"/>
<rect x="1207" y="526" width="9" height="46" fill="#389838"/>
<rect x="1223" y="540" width="1" height="22" fill="#ff3a3a"/>
<rect x="1223" y="568" width="1" height="3" fill="#ff3a3a"/>
<rect x="1219.5" y="562.5" width="8" height="5" fill="#fdfdfd" stroke="#ff3a3a"/>
<rect x="1235" y="553" width="1" height="7" fill="#389838"/>
<rect x="1235" y="596" width="1" height="9" fill="#389838"/>
<rect x="1231" y="560" width="9" height="36" fill="#389838"/>
<rect x="1247" y="552" width="1" height="11" fill="#ff3a3a"/>
<rect x="1247" y="597" width="1" height="3" fill="#ff3a3a"/>
<rect x="1243.5" y="563.5" width="8" height="33" fill="#fdfdfd" stroke="#ff3a3a"/>
<rect x="1260" y="558" width="1" height="6" fill="#ff3a3a"/>
<rect x="1260" y="565" width="1" height="11" fill="#ff3a3a"/>
<rect x="1256" y="564" width="9" height="1" fill="#ff3a3a"/>
<rect x="1272" y="506" width="1" height="3" fill="#ff3a3a"/>
<rect x="1268.5" y="509.5" width="8" height="56" fill="#fdfdfd" stroke="#ff3a3a"/>
<rect x="1284" y="466" width="1" height="27" fill="#ff3a3a"/>
<rect x="1280.5" y="493.5" width="8" height="14" fill="#fdfdfd" stroke="#ff3a3a"/>
<rect x="1296" y="492" width="1" height="3" fill="#ff3a3a"/>
<rect x="1292.5" y="458.5" width="8" height="33" fill="#fdfdfd" stroke="#ff3a3a"/>
<rect x="1308" y="462" width="1" height="4" fill="#ff3a3a"/>
<rect x="1304.5" y="430.5" width="8" height="31" fill="#fdfdfd" stroke="#ff3a3a"/>
<rect x="1320" y="404" width="1" height="9" fill="#ff3a3a"/>
<rect x="1316.5" y="413.5" width="8" height="12" fill="#fdfdfd" stroke="#ff3a3a"/>
<rect x="1333" y="407" width="1" height="7" fill="#389838"/>
<rect x="1333" y="433" width="1" height="1" fill="#389838"/>
<rect x="1329" y="414" width="9" height="19" fill="#389838"/>
<rect x="1345" y="459" width="1" height="3" fill="#389838"/>
<rect x="1341" y="429" width="9" height="30" fill="#389838"/>
<rect x="1357" y="450" width="1" height="6" fill="#389838"/>
<rect x="1357" y="459" width="1" height="8" fill="#389838"/>
<rect x="1353" y="456" width="9" height="3" fill="#389838"/>
<rect x="1369" y="494" width="1" height="2" fill="#389838"/>
<rect x="1365" y="456" width="9" height="38" fill="#389838"/>
<rect x="1381" y="491" width="1" height="3" fill="#389838"/>
<rect x="1381" y="501" width="1" height="6" fill="#389838"/>
<rect x="1377" y="494" width="9" height="7" fill="#389838"/>
<rect x="1393" y="467" width="1" height="9" fill="#ff3a3a"/>
<rect x="1393" y="502" width="1" height="3" fill="#ff3a3a"/>
<rect x="1389.5" y="476.5" width="8" height="25" fill="#fdfdfd" stroke="#ff3a3a"/>
<rect x="1406" y="466" width="1" height="3" fill="#ff3a3a"/>
<rect x="1406" y="481" width="1" height="14" fill="#ff3a3a"/>
<rect x="1402.5" y="469.5" width="8" height="11" fill="#fdfdfd" stroke="#ff3a3a"/>
<rect x="1418" y="499" width="1" height="9" fill="#389838"/>
<rect x="1414" y="464" width="9" height="35" fill="#389838"/>
<rect x="1430" y="497" width="1" height="8" fill="#389838"/>
<rect x="1426" y="505" width="9" height="29" fill="#389838"/>
<rect x="1442" y="538" width="1" height="10" fill="#ff3a3a"/>
<rect x="1438.5" y="512.5" width="8" height="25" fill="#fdfdfd" stroke="#ff3a3a"/>
<rect x="1454" y="458" width="1" height="8" fill="#ff3a3a"/>
<rect x="1454" y="513" width="1" height="2" fill="#ff3a3a"/>
<rect x="1450.5" y="466.5" width="8" height="46" fill="#fdfdfd" stroke="#ff3a3a"/>
<rect x="1466" y="396" width="1" height="21" fill="#389838"/>
<rect x="1466" y="436" width="1" height="23" fill="#389838"/>
<rect x="1462" y="417" width="9" height="19" fill="#389838"/>
<rect x="1479" y="442" width="1" height="9" fill="#ff3a3a"/>
<rect x="1475.5" y="343.5" width="8" height="98" fill="#fdfdfd" stroke="#ff3a3a"/>
<rect x="1491" y="336" width="1" height="4" fill="#389838"/>
<rect x="1487" y="340" width="9" height="58" fill="#389838"/>
<rect x="1503" y="390" width="1" height="10" fill="#389838"/>
<rect x="1503" y="401" width="1" height="18" fill="#389838"/>
<rect x="1499" y="400" width="9" height="1" fill="#389838"/>
<rect x="1515" y="371" width="1" height="14" fill="#ff3a3a"/>
<rect x="1515" y="402" width="1" height="11" fill="#ff3a3a"/>
<rect x="1511.5" y="385.5" width="8" height="16" fill="#fdfdfd" stroke="#ff3a3a"/>
<rect x="1527" y="391" width="1" height="15" fill="#ff3a3a"/>
<rect x="1523.5" y="378.5" width="8" height="12" fill="#fdfdfd" stroke="#ff3a3a"/>
<rect x="1539" y="312" width="1" height="24" fill="#ff3a3a"/>
<rect x="1535.5" y="336.5" width="8" height="39" fill="#fdfdfd" stroke="#ff3a3a"/>
<rect x="1552" y="289" width="1" height="5" fill="#ff3a3a"/>
<rect x="1552" y="339" width="1" height="2" fill="#ff3a3a"/>
<rect x="1548.5" y="294.5" width="8" height="44" fill="#fdfdfd" stroke="#ff3a3a"/>
<rect x="1564" y="244" width="1" height="13" fill="#ff3a3a"/>
<rect x="1560.5" y="257.5" width="8" height="32" fill="#fdfdfd" stroke="#ff3a3a"/>
<rect x="1576" y="244" width="1" height="6" fill="#389838"/>
<rect x="1576" y="273" width="1" height="11" fill="#389838"/>
<rect x="1572" y="250" width="9" height="23" fill="#389838"/>
<rect x="1588" y="259" width="1" height="15" fill="#389838"/>
<rect x="1584" y="274" width="9" height="43" fill="#389838"/>
<rect x="1600" y="303" width="1" height="14" fill="#389838"/>
<rect x="1600" y="334" width="1" height="5" fill="#389838"/>
<rect x="1596" y="317" width="9" height="17" fill="#389838"/>
<rect x="1613" y="298" width="1" height="9" fill="#ff3a3a"/>
<rect x="1609.5" y="307.5" width="8" height="29" fill="#fdfdfd" stroke="#ff3a3a"/>
<rect x="1625" y="300" width="1" height="6" fill="#389838"/>
<rect x="1625" y="355" width="1" height="2" fill="#389838"/>
<rect x="1621" y="306" width="9" height="49" fill="#389838"/>
<rect x="1637" y="351" width="1" height="8" fill="#389838"/>
<rect x="1637" y="388" width="1" height="10" fill="#389838"/>
<rect x="1633" y="359" width="9" height="29" fill="#389838"/>
<rect x="1649" y="388" width="1" height="1" fill="#ff3a3a"/>
<rect x="1645.5" y="336.5" width="8" height="51" fill="#fdfdfd" stroke="#ff3a3a"/>
<rect x="1661" y="322" width="1" height="5" fill="#ff3a3a"/>
<rect x="1661" y="337" width="1" height="3" fill="#ff3a3a"/>
<rect x="1657.5" y="327.5" width="8" height="9" fill="#fdfdfd" stroke="#ff3a3a"/>
<rect x="1673" y="288" width="1" height="8" fill="#ff3a3a"/>
<rect x="1673" y="325" width="1" height="7" fill="#ff3a3a"/>
<rect x="1669.5" y="296.5" width="8" height="28" fill="#fdfdfd" stroke="#ff3a3a"/>
<rect x="1686" y="250" width="1" height="2" fill="#ff3a3a"/>
<rect x="1682.5" y="252.5" width="8" height="39" fill="#fdfdfd" stroke="#ff3a3a"/>
<rect x="1698" y="187" width="1" height="2" fill="#ff3a3a"/>
<rect x="1698" y="250" width="1" height="1" fill="#ff3a3a"/>
<rect x="1694.5" y="189.5" width="8" height="60" fill="#fdfdfd" stroke="#ff3a3a"/>
<rect x="1710" y="185" width="1" height="27" fill="#ff3a3a"/>
<rect x="1706.5" y="171.5" width="8" height="13" fill="#fdfdfd" stroke="#ff3a3a"/>
<rect x="1718.5" y="125.5" width="8" height="47" fill="#fdfdfd" stroke="#ff3a3a"/>
<rect x="1734" y="125" width="1" height="3" fill="#ff3a3a"/>
<rect x="1730.5" y="88.5" width="8" height="36" fill="#fdfdfd" stroke="#ff3a3a"/>
<rect x="1746" y="35" width="1" height="2" fill="#ff3a3a"/>
<rect x="1746" y="87" width="1" height="5" fill="#ff3a3a"/>
<rect x="1742.5" y="37.5" width="8" height="49" fill="#fdfdfd" stroke="#ff3a3a"/>
</g>
<path d="M6.5 874.1C7.7 873.5 16.1 868.9 18.5 867.9C20.9 866.9 28.0 864.8 30.5 864.1C33.0 863.4 41.0 861.6 43.5 861.1C46.0 860.6 53.1 859.7 55.5 859.6C57.9 859.5 65.1 859.9 67.5 860.1C69.9 860.4 77.1 861.6 79.5 862.1C81.9 862.6 89.1 864.4 91.5 865.1C93.9 865.8 101.0 868.3 103.5 869.4C106.0 870.5 114.0 874.2 116.5 876.2C119.0 878.2 126.1 887.5 128.5 889.7C130.9 891.8 138.1 896.3 140.5 897.6C142.9 898.9 150.1 901.7 152.5 902.5C154.9 903.3 162.1 904.9 164.5 905.3C166.9 905.8 174.0 907.0 176.5 907.1C179.0 907.3 187.0 907.2 189.5 907.2C192.0 907.3 199.1 907.7 201.5 907.9C203.9 908.0 211.1 908.7 213.5 908.8C215.9 908.9 223.1 908.9 225.5 908.8C227.9 908.8 235.1 908.5 237.5 908.2C239.9 908.0 247.0 907.0 249.5 906.5C252.0 906.1 260.0 904.7 262.5 904.1C265.0 903.6 272.1 902.1 274.5 901.2C276.9 900.3 284.1 897.3 286.5 895.1C288.9 893.0 296.1 882.1 298.5 879.6C300.9 877.2 308.1 872.3 310.5 870.6C312.9 869.0 320.0 864.6 322.5 863.2C325.0 861.8 333.0 857.7 335.5 856.8C338.0 855.8 345.1 854.3 347.5 853.8C349.9 853.3 357.1 852.1 359.5 851.8C361.9 851.5 369.1 850.9 371.5 850.8C373.9 850.6 381.0 850.6 383.5 850.7C386.0 850.7 394.0 850.8 396.5 851.4C399.0 851.9 406.1 854.1 408.5 856.0C410.9 858.0 418.1 868.7 420.5 871.2C422.9 873.8 430.1 879.7 432.5 881.5C434.9 883.3 442.1 887.7 444.5 889.0C446.9 890.3 454.0 894.0 456.5 894.8C459.0 895.7 467.0 897.1 469.5 897.5C472.0 897.9 479.1 899.0 481.5 899.3C483.9 899.6 491.1 900.0 493.5 900.2C495.9 900.4 503.1 901.1 505.5 901.2C507.9 901.3 515.1 900.9 517.5 900.9C519.9 900.9 527.0 901.2 529.5 901.2C532.0 901.2 540.0 901.2 542.5 901.1C545.0 901.0 552.1 900.8 554.5 900.5C556.9 900.1 564.1 898.6 566.5 897.8C568.9 897.0 576.1 894.5 578.5 892.4C580.9 890.2 588.1 878.4 590.5 876.2C592.9 874.0 600.0 871.3 602.5 870.3C605.0 869.3 613.0 867.1 615.5 866.4C618.0 865.8 625.1 863.7 627.5 863.5C629.9 863.3 637.1 864.2 639.5 864.3C641.9 864.5 649.1 865.0 651.5 864.9C653.9 864.9 661.1 863.7 663.5 863.5C665.9 863.4 673.0 863.1 675.5 863.5C678.0 863.8 686.0 866.3 688.5 867.3C691.0 868.2 698.1 870.5 700.5 872.9C702.9 875.2 710.1 887.9 712.5 890.4C714.9 892.9 722.1 896.7 724.5 898.0C726.9 899.3 734.1 902.3 736.5 903.2C738.9 904.1 746.0 906.5 748.5 907.0C751.0 907.5 759.0 908.2 761.5 908.5C764.0 908.7 771.1 909.3 773.5 909.7C775.9 910.1 783.1 912.2 785.5 912.7C787.9 913.1 795.1 914.2 797.5 914.4C799.9 914.5 807.1 914.3 809.5 914.3C811.9 914.2 819.0 913.7 821.5 913.6C824.0 913.4 832.0 912.7 834.5 912.5C837.0 912.3 844.1 911.8 846.5 911.4C848.9 911.0 856.1 909.5 858.5 908.7C860.9 907.9 868.1 905.0 870.5 903.2C872.9 901.4 880.1 892.7 882.5 890.7C884.9 888.7 892.0 884.7 894.5 883.2C897.0 881.8 905.0 877.3 907.5 876.0C910.0 874.8 917.1 871.4 919.5 870.7C921.9 869.9 929.1 868.6 931.5 868.4C933.9 868.1 941.1 868.1 943.5 868.0C945.9 868.0 953.1 867.9 955.5 867.9C957.9 867.8 965.0 867.2 967.5 867.5C970.0 867.7 978.0 869.6 980.5 870.4C983.0 871.3 990.1 874.3 992.5 876.3C994.9 878.2 1002.1 887.5 1004.5 889.6C1006.9 891.8 1014.1 896.1 1016.5 897.6C1018.9 899.1 1026.0 903.4 1028.5 904.6C1031.0 905.8 1039.0 908.8 1041.5 909.6C1044.0 910.3 1051.1 911.6 1053.5 912.0C1055.9 912.4 1063.1 913.0 1065.5 913.1C1067.9 913.2 1075.1 912.7 1077.5 912.7C1079.9 912.6 1087.1 912.8 1089.5 912.7C1091.9 912.5 1099.0 911.4 1101.5 911.2C1104.0 911.0 1112.0 910.8 1114.5 910.7C1117.0 910.5 1124.1 910.2 1126.5 909.8C1128.9 909.4 1136.1 907.3 1138.5 906.6C1140.9 905.8 1148.1 903.4 1150.5 902.3C1152.9 901.1 1160.1 897.6 1162.5 895.4C1164.9 893.2 1172.0 882.9 1174.5 880.3C1177.0 877.7 1185.0 870.7 1187.5 869.2C1190.0 867.7 1197.1 866.1 1199.5 865.6C1201.9 865.2 1209.1 864.8 1211.5 864.7C1213.9 864.7 1221.1 865.1 1223.5 865.2C1225.9 865.2 1233.1 865.1 1235.5 865.1C1237.9 865.2 1245.0 865.0 1247.5 865.3C1250.0 865.7 1258.0 868.0 1260.5 868.8C1263.0 869.5 1270.1 872.0 1272.5 873.1C1274.9 874.1 1282.1 877.0 1284.5 879.2C1286.9 881.3 1294.1 892.0 1296.5 894.8C1298.9 897.5 1306.1 905.1 1308.5 906.8C1310.9 908.4 1318.0 910.6 1320.5 911.3C1323.0 911.9 1331.0 913.2 1333.5 913.6C1336.0 913.9 1343.1 914.9 1345.5 915.1C1347.9 915.4 1355.1 916.0 1357.5 916.1C1359.9 916.3 1367.1 916.3 1369.5 916.3C1371.9 916.3 1379.1 916.4 1381.5 916.4C1383.9 916.4 1391.0 916.3 1393.5 916.3C1396.0 916.3 1404.0 916.4 1406.5 916.3C1409.0 916.2 1416.1 915.1 1418.5 914.9C1420.9 914.6 1428.1 913.9 1430.5 913.7C1432.9 913.4 1440.1 912.9 1442.5 912.2C1444.9 911.5 1452.1 908.5 1454.5 906.6C1456.9 904.7 1464.0 895.4 1466.5 893.2C1469.0 891.0 1477.0 886.4 1479.5 884.7C1482.0 883.0 1489.1 877.4 1491.5 876.1C1493.9 874.9 1501.1 872.6 1503.5 871.8C1505.9 871.1 1513.1 869.5 1515.5 869.0C1517.9 868.4 1525.1 866.7 1527.5 866.3C1529.9 865.8 1537.0 864.4 1539.5 864.2C1542.0 864.0 1550.0 864.2 1552.5 864.2C1555.0 864.2 1562.1 863.9 1564.5 864.4C1566.9 864.9 1574.1 868.0 1576.5 869.7C1578.9 871.4 1586.1 879.6 1588.5 881.6C1590.9 883.5 1598.0 887.3 1600.5 888.8C1603.0 890.3 1611.0 895.6 1613.5 896.7C1616.0 897.9 1623.1 899.6 1625.5 900.1C1627.9 900.7 1635.1 901.8 1637.5 902.4C1639.9 903.0 1647.1 905.2 1649.5 905.9C1651.9 906.6 1659.1 908.8 1661.5 909.2C1663.9 909.6 1671.0 910.0 1673.5 910.2C1676.0 910.4 1684.0 911.5 1686.5 911.5C1689.0 911.5 1696.1 909.9 1698.5 909.7C1700.9 909.5 1708.1 909.6 1710.5 909.3C1712.9 909.1 1720.1 907.9 1722.5 907.4C1724.9 906.8 1732.1 905.0 1734.5 903.8C1736.9 902.6 1745.3 896.1 1746.5 895.3" fill="none" stroke="#8a0f8a" stroke-width="1"/>
<path d="M6.5 848.4C7.7 847.5 16.1 840.1 18.5 839.1C20.9 838.1 28.0 838.3 30.5 838.4C33.0 838.5 41.0 839.3 43.5 840.4C46.0 841.5 53.1 846.6 55.5 849.8C57.9 853.1 65.1 869.2 67.5 872.7C69.9 876.3 77.1 883.2 79.5 885.1C81.9 887.1 89.1 891.3 91.5 892.6C93.9 893.9 101.0 897.4 103.5 898.4C106.0 899.4 114.0 901.7 116.5 902.5C119.0 903.4 126.1 905.8 128.5 906.6C130.9 907.3 138.1 909.4 140.5 910.0C142.9 910.6 150.1 912.2 152.5 912.4C154.9 912.6 162.1 912.3 164.5 912.3C166.9 912.2 174.0 912.2 176.5 911.8C179.0 911.3 187.0 908.5 189.5 907.9C192.0 907.3 199.1 905.9 201.5 905.7C203.9 905.4 211.1 905.3 213.5 905.2C215.9 905.2 223.1 905.4 225.5 905.4C227.9 905.4 235.1 904.8 237.5 904.7C239.9 904.7 247.0 905.4 249.5 905.2C252.0 905.0 260.0 903.4 262.5 902.6C265.0 901.8 272.1 899.0 274.5 897.2C276.9 895.5 284.1 889.2 286.5 884.9C288.9 880.6 296.1 859.4 298.5 854.5C300.9 849.6 308.1 839.2 310.5 836.1C312.9 833.0 320.0 825.7 322.5 823.8C325.0 821.8 333.0 816.4 335.5 816.3C338.0 816.2 345.1 819.4 347.5 822.7C349.9 826.0 357.1 844.8 359.5 849.1C361.9 853.4 369.1 862.6 371.5 865.4C373.9 868.3 381.0 875.5 383.5 877.6C386.0 879.7 394.0 885.3 396.5 886.4C399.0 887.6 406.1 888.7 408.5 889.4C410.9 890.1 418.1 892.6 420.5 893.4C422.9 894.2 430.1 896.9 432.5 897.6C434.9 898.3 442.1 899.8 444.5 900.4C446.9 900.9 454.0 902.7 456.5 903.2C459.0 903.7 467.0 905.4 469.5 905.6C472.0 905.8 479.1 905.5 481.5 905.2C483.9 904.9 491.1 903.1 493.5 902.8C495.9 902.5 503.1 902.4 505.5 902.0C507.9 901.6 515.1 899.1 517.5 898.6C519.9 898.1 527.0 896.9 529.5 896.7C532.0 896.6 540.0 896.8 542.5 897.0C545.0 897.1 552.1 898.5 554.5 898.2C556.9 897.8 564.1 894.7 566.5 893.5C568.9 892.3 576.1 890.0 578.5 886.2C580.9 882.4 588.1 859.9 590.5 855.7C592.9 851.4 600.0 845.7 602.5 843.6C605.0 841.5 613.0 835.7 615.5 834.7C618.0 833.7 625.1 832.7 627.5 833.5C629.9 834.3 637.1 838.4 639.5 842.5C641.9 846.5 649.1 870.1 651.5 874.2C653.9 878.3 661.1 881.6 663.5 883.4C665.9 885.2 673.0 890.5 675.5 892.2C678.0 894.0 686.0 899.9 688.5 901.0C691.0 902.1 698.1 902.7 700.5 903.2C702.9 903.8 710.1 905.7 712.5 906.6C714.9 907.6 722.1 911.8 724.5 912.6C726.9 913.3 734.1 914.1 736.5 914.1C738.9 914.2 746.0 913.0 748.5 912.9C751.0 912.9 759.0 913.7 761.5 913.7C764.0 913.7 771.1 912.8 773.5 912.7C775.9 912.6 783.1 912.6 785.5 912.8C787.9 913.0 795.1 914.3 797.5 914.6C799.9 914.9 807.1 915.7 809.5 915.6C811.9 915.5 819.0 913.8 821.5 913.4C824.0 913.1 832.0 912.6 834.5 912.2C837.0 911.9 844.1 910.9 846.5 910.0C848.9 909.0 856.1 904.8 858.5 902.8C860.9 900.9 868.1 894.3 870.5 890.8C872.9 887.4 880.1 871.7 882.5 868.0C884.9 864.4 892.0 856.8 894.5 854.2C897.0 851.6 905.0 843.7 907.5 842.1C910.0 840.5 917.1 838.1 919.5 838.5C921.9 838.9 929.1 842.9 931.5 845.9C933.9 848.9 941.1 864.5 943.5 868.1C945.9 871.6 953.1 879.0 955.5 881.5C957.9 883.9 965.0 890.7 967.5 892.8C970.0 894.9 978.0 901.0 980.5 902.4C983.0 903.8 990.1 905.7 992.5 906.6C994.9 907.5 1002.1 910.5 1004.5 911.2C1006.9 911.9 1014.1 913.3 1016.5 913.8C1018.9 914.3 1026.0 916.1 1028.5 916.4C1031.0 916.7 1039.0 916.7 1041.5 916.8C1044.0 916.9 1051.1 917.6 1053.5 917.4C1055.9 917.2 1063.1 915.6 1065.5 915.0C1067.9 914.4 1075.1 912.1 1077.5 911.5C1079.9 910.9 1087.1 909.5 1089.5 908.9C1091.9 908.3 1099.0 906.0 1101.5 905.5C1104.0 905.0 1112.0 904.0 1114.5 903.9C1117.0 903.8 1124.1 904.8 1126.5 904.6C1128.9 904.3 1136.1 902.5 1138.5 901.6C1140.9 900.7 1148.1 897.2 1150.5 895.6C1152.9 893.9 1160.1 889.1 1162.5 885.2C1164.9 881.3 1172.0 861.8 1174.5 856.6C1177.0 851.5 1185.0 836.5 1187.5 833.8C1190.0 831.1 1197.1 829.7 1199.5 829.7C1201.9 829.7 1209.1 832.4 1211.5 833.9C1213.9 835.4 1221.1 841.1 1223.5 845.1C1225.9 849.1 1233.1 868.5 1235.5 873.7C1237.9 878.8 1245.0 893.4 1247.5 896.8C1250.0 900.3 1258.0 906.3 1260.5 907.8C1263.0 909.4 1270.1 911.7 1272.5 912.3C1274.9 912.8 1282.1 912.9 1284.5 913.3C1286.9 913.6 1294.1 915.6 1296.5 915.9C1298.9 916.2 1306.1 916.8 1308.5 916.7C1310.9 916.6 1318.0 914.9 1320.5 914.7C1323.0 914.5 1331.0 914.6 1333.5 914.9C1336.0 915.1 1343.1 916.9 1345.5 917.0C1347.9 917.2 1355.1 916.5 1357.5 916.4C1359.9 916.3 1367.1 915.8 1369.5 915.9C1371.9 916.1 1379.1 917.9 1381.5 918.1C1383.9 918.3 1391.0 918.0 1393.5 917.7C1396.0 917.5 1404.0 916.0 1406.5 915.6C1409.0 915.1 1416.1 913.8 1418.5 913.4C1420.9 913.0 1428.1 912.1 1430.5 911.4C1432.9 910.7 1440.1 907.8 1442.5 906.2C1444.9 904.6 1452.1 899.0 1454.5 895.4C1456.9 891.9 1464.0 874.8 1466.5 870.8C1469.0 866.9 1477.0 859.1 1479.5 856.1C1482.0 853.1 1489.1 842.8 1491.5 840.9C1493.9 839.0 1501.1 837.3 1503.5 837.5C1505.9 837.6 1513.1 840.0 1515.5 842.5C1517.9 844.9 1525.1 858.7 1527.5 861.7C1529.9 864.7 1537.0 869.7 1539.5 872.3C1542.0 874.9 1550.0 885.6 1552.5 887.5C1555.0 889.4 1562.1 890.4 1564.5 891.3C1566.9 892.3 1574.1 895.9 1576.5 896.9C1578.9 897.9 1586.1 900.6 1588.5 901.4C1590.9 902.3 1598.0 904.9 1600.5 905.4C1603.0 905.8 1611.0 905.6 1613.5 906.0C1616.0 906.3 1623.1 908.7 1625.5 908.9C1627.9 909.1 1635.1 907.8 1637.5 907.9C1639.9 908.1 1647.1 909.9 1649.5 910.4C1651.9 910.9 1659.1 912.6 1661.5 913.0C1663.9 913.4 1671.0 914.3 1673.5 914.4C1676.0 914.5 1684.0 914.4 1686.5 914.1C1689.0 913.8 1696.1 912.1 1698.5 911.5C1700.9 910.9 1708.1 909.3 1710.5 908.3C1712.9 907.3 1720.1 903.2 1722.5 901.7C1724.9 900.2 1732.1 895.6 1734.5 893.1C1736.9 890.6 1745.3 878.2 1746.5 876.5" fill="none" stroke="#1482e6" stroke-width="1"/>
<g>
<polygon points="335.2,25.4 1177.5,691.5 1175.7,693.8 1186.8,695.9 1182.2,685.6 1180.4,687.9 335.8,24.6" fill="#17dede"/>
<polygon points="335.2,23.2 655.4,591.8 652.5,593.4 662.0,599.5 661.6,588.2 658.8,589.8 335.8,22.8" fill="#3357dc"/>
<polygon points="664.4,604.6 701.0,433.0 704.1,433.6 701.0,422.8 693.9,431.6 697.0,432.2 663.6,604.4" fill="#3357dc"/>
<polygon points="701.7,421.2 814.7,613.4 811.9,615.1 821.5,621.0 820.8,609.7 818.0,611.4 702.3,420.8" fill="#3357dc"/>
<polygon points="822.3,621.2 1025.3,272.8 1027.9,274.3 1028.4,263.0 1018.9,269.1 1021.5,270.6 821.7,620.8" fill="#3357dc"/>
<polygon points="1029.3,263.1 1067.5,368.9 1181.8,686.3 1178.9,687.4 1187.2,695.0 1188.7,683.8 1185.7,684.9 1068.6,368.4 1029.7,262.9" fill="#3357dc"/>
<polygon points="1188.4,695.2 1214.9,640.0 1318.3,418.0 1320.9,419.3 1320.4,408.0 1311.5,414.9 1314.1,416.1 1212.4,638.8 1187.6,694.8" fill="#3357dc"/>
<polygon points="1320.8,408.2 1433.9,540.8 1431.5,542.9 1442.0,547.0 1439.4,536.0 1437.0,538.1 1321.2,407.8" fill="#3357dc"/>
<polygon points="1442.9,547.2 1562.4,257.5 1565.4,258.7 1564.4,247.5 1555.8,254.8 1558.9,256.0 1442.1,546.8" fill="#3357dc"/>
<polygon points="1564.7,247.1 1631.7,386.0 1628.9,387.4 1638.0,394.0 1638.2,382.7 1635.4,384.1 1565.3,246.9" fill="#3357dc"/>
<polygon points="1638.9,394.1 1745.7,45.1 1749.1,46.1 1747.0,35.0 1739.1,43.1 1742.5,44.1 1638.1,393.9" fill="#3357dc"/>
<polygon points="335.2,23.3 813.9,614.5 811.4,616.5 821.7,621.0 819.4,610.0 816.9,612.0 335.8,22.7" fill="#f416f4"/>
<polygon points="1188.4,695.6 1744.0,46.7 1746.5,48.8 1749.0,37.2 1737.9,41.6 1740.4,43.6 1187.6,695.0" fill="#f416f4"/>
</g>
<g fill="none" stroke="#222" stroke-width="1"><path d="M335.5 23.5L347 27M335.5 23.5L340 22M335.5 23.5L338 27"/><path d="M1188 696L1198.5 697.5M1188 696L1191 694M1188 696L1190.5 699.5"/></g>
<text x="349.6" y="32" fill="#3c3c3c">3192.13</text>
<text x="1200.5" y="703" fill="#3c3c3c">3110.30</text>
<text class="s" x="330.2" y="20.3">0</text>
<text class="s" x="1184.5" y="719">1</text>
<text class="s" x="1740.5" y="30">10</text>
<text y="15" fill="#3c3c3c"><tspan x="2.4">999999</tspan> <tspan x="46.8" letter-spacing="0.2">上证指数</tspan><tspan x="95.8">(10分钟.前复权)</tspan> <tspan x="183.4" y="14.6" font-size="10" stroke="#3c3c3c" stroke-width="0.4">▽</tspan></text>
<text y="735" fill="#3c3c3c"><tspan x="1.2" y="734.6" font-size="10" stroke="#3c3c3c" stroke-width="0.4">▽</tspan><tspan x="12.6" y="735" letter-spacing="-0.1">VOL-TDX(5,10)</tspan> <tspan x="100.2" letter-spacing="-0.3">VVOL:</tspan> <tspan x="136.0" letter-spacing="0.3">1566061.00</tspan> <tspan x="212" letter-spacing="-0.25" fill="#1482e6">VOLUME:</tspan> <tspan x="266.6" letter-spacing="0.3" fill="#1482e6">1566061.00</tspan> <tspan x="338.5" letter-spacing="-0.3" fill="#1482e6">MA5:</tspan> <tspan x="367.0" letter-spacing="0.3" fill="#1482e6">980698.63</tspan> <tspan x="431.5" letter-spacing="-0.5" fill="#8a0f8a">MA10:</tspan> <tspan x="467.2" letter-spacing="0.3" fill="#8a0f8a">757121.88</tspan></text>
<g fill="#6e6e6e" text-anchor="end" letter-spacing="0.3">
<text x="1836.2" y="45">3190</text>
<text x="1836.2" y="86">3185</text>
<text x="1836.2" y="127">3180</text>
<text x="1836.2" y="168">3175</text>
<text x="1836.2" y="209">3170</text>
<text x="1836.2" y="251">3165</text>
<text x="1836.2" y="292">3160</text>
<text x="1836.2" y="333">3155</text>
<text x="1836.2" y="374">3150</text>
<text x="1836.2" y="415">3145</text>
<text x="1836.2" y="457">3140</text>
<text x="1836.2" y="498">3135</text>
<text x="1836.2" y="539">3130</text>
<text x="1836.2" y="580">3125</text>
<text x="1836.2" y="622">3120</text>
<text x="1836.2" y="663">3115</text>
<text x="1836.2" y="704">3110</text>
<text x="1836.2" y="753">25000</text>
<text x="1836.2" y="795">20000</text>
<text x="1836.2" y="837">15000</text>
<text x="1836.2" y="880">10000</text>
<text x="1836.2" y="922">5000</text>
</g>
<text x="1793" y="960" fill="#6e6e6e">X100</text>
<text x="1796" y="976" fill="#2a2a2a">10分钟</text>
<g fill="#6e6e6e">
<text x="6.6" y="976" letter-spacing="0.2">03月30日</text>
<text x="79" y="976">10:40</text>
<text x="152" y="976">13:10</text>
<text x="225" y="976">14:10</text>
<text x="298" y="976">09:40</text>
<text x="371" y="976">10:40</text>
<text x="444" y="976">13:10</text>
<text x="517" y="976">14:10</text>
<text x="590" y="976">09:40</text>
<text x="663" y="976">10:40</text>
<text x="736" y="976">13:10</text>
<text x="809" y="976">14:10</text>
<text x="882" y="976">09:40</text>
<text x="955" y="976">10:40</text>
<text x="1028" y="976">13:10</text>
<text x="1101" y="976">14:10</text>
<text x="1174" y="976">09:40</text>
<text x="1247" y="976">10:40</text>
<text x="1320" y="976">13:10</text>
<text x="1393" y="976">14:10</text>
<text x="1466" y="976">09:40</text>
<text x="1539" y="976">10:40</text>
<text x="1613" y="976">13:10</text>
<text x="1686" y="976">14:10</text>
</g>
<g fill="none" stroke="#c4c4c4" stroke-width="1"><path d="M1766.5 6.5l5 5l-5 5l-5 -5z"/><path class="c" d="M1778.5 8.5h7v7h-7zM1780.5 8.5v-2h7v7h-2"/></g>
</svg></body></html>
